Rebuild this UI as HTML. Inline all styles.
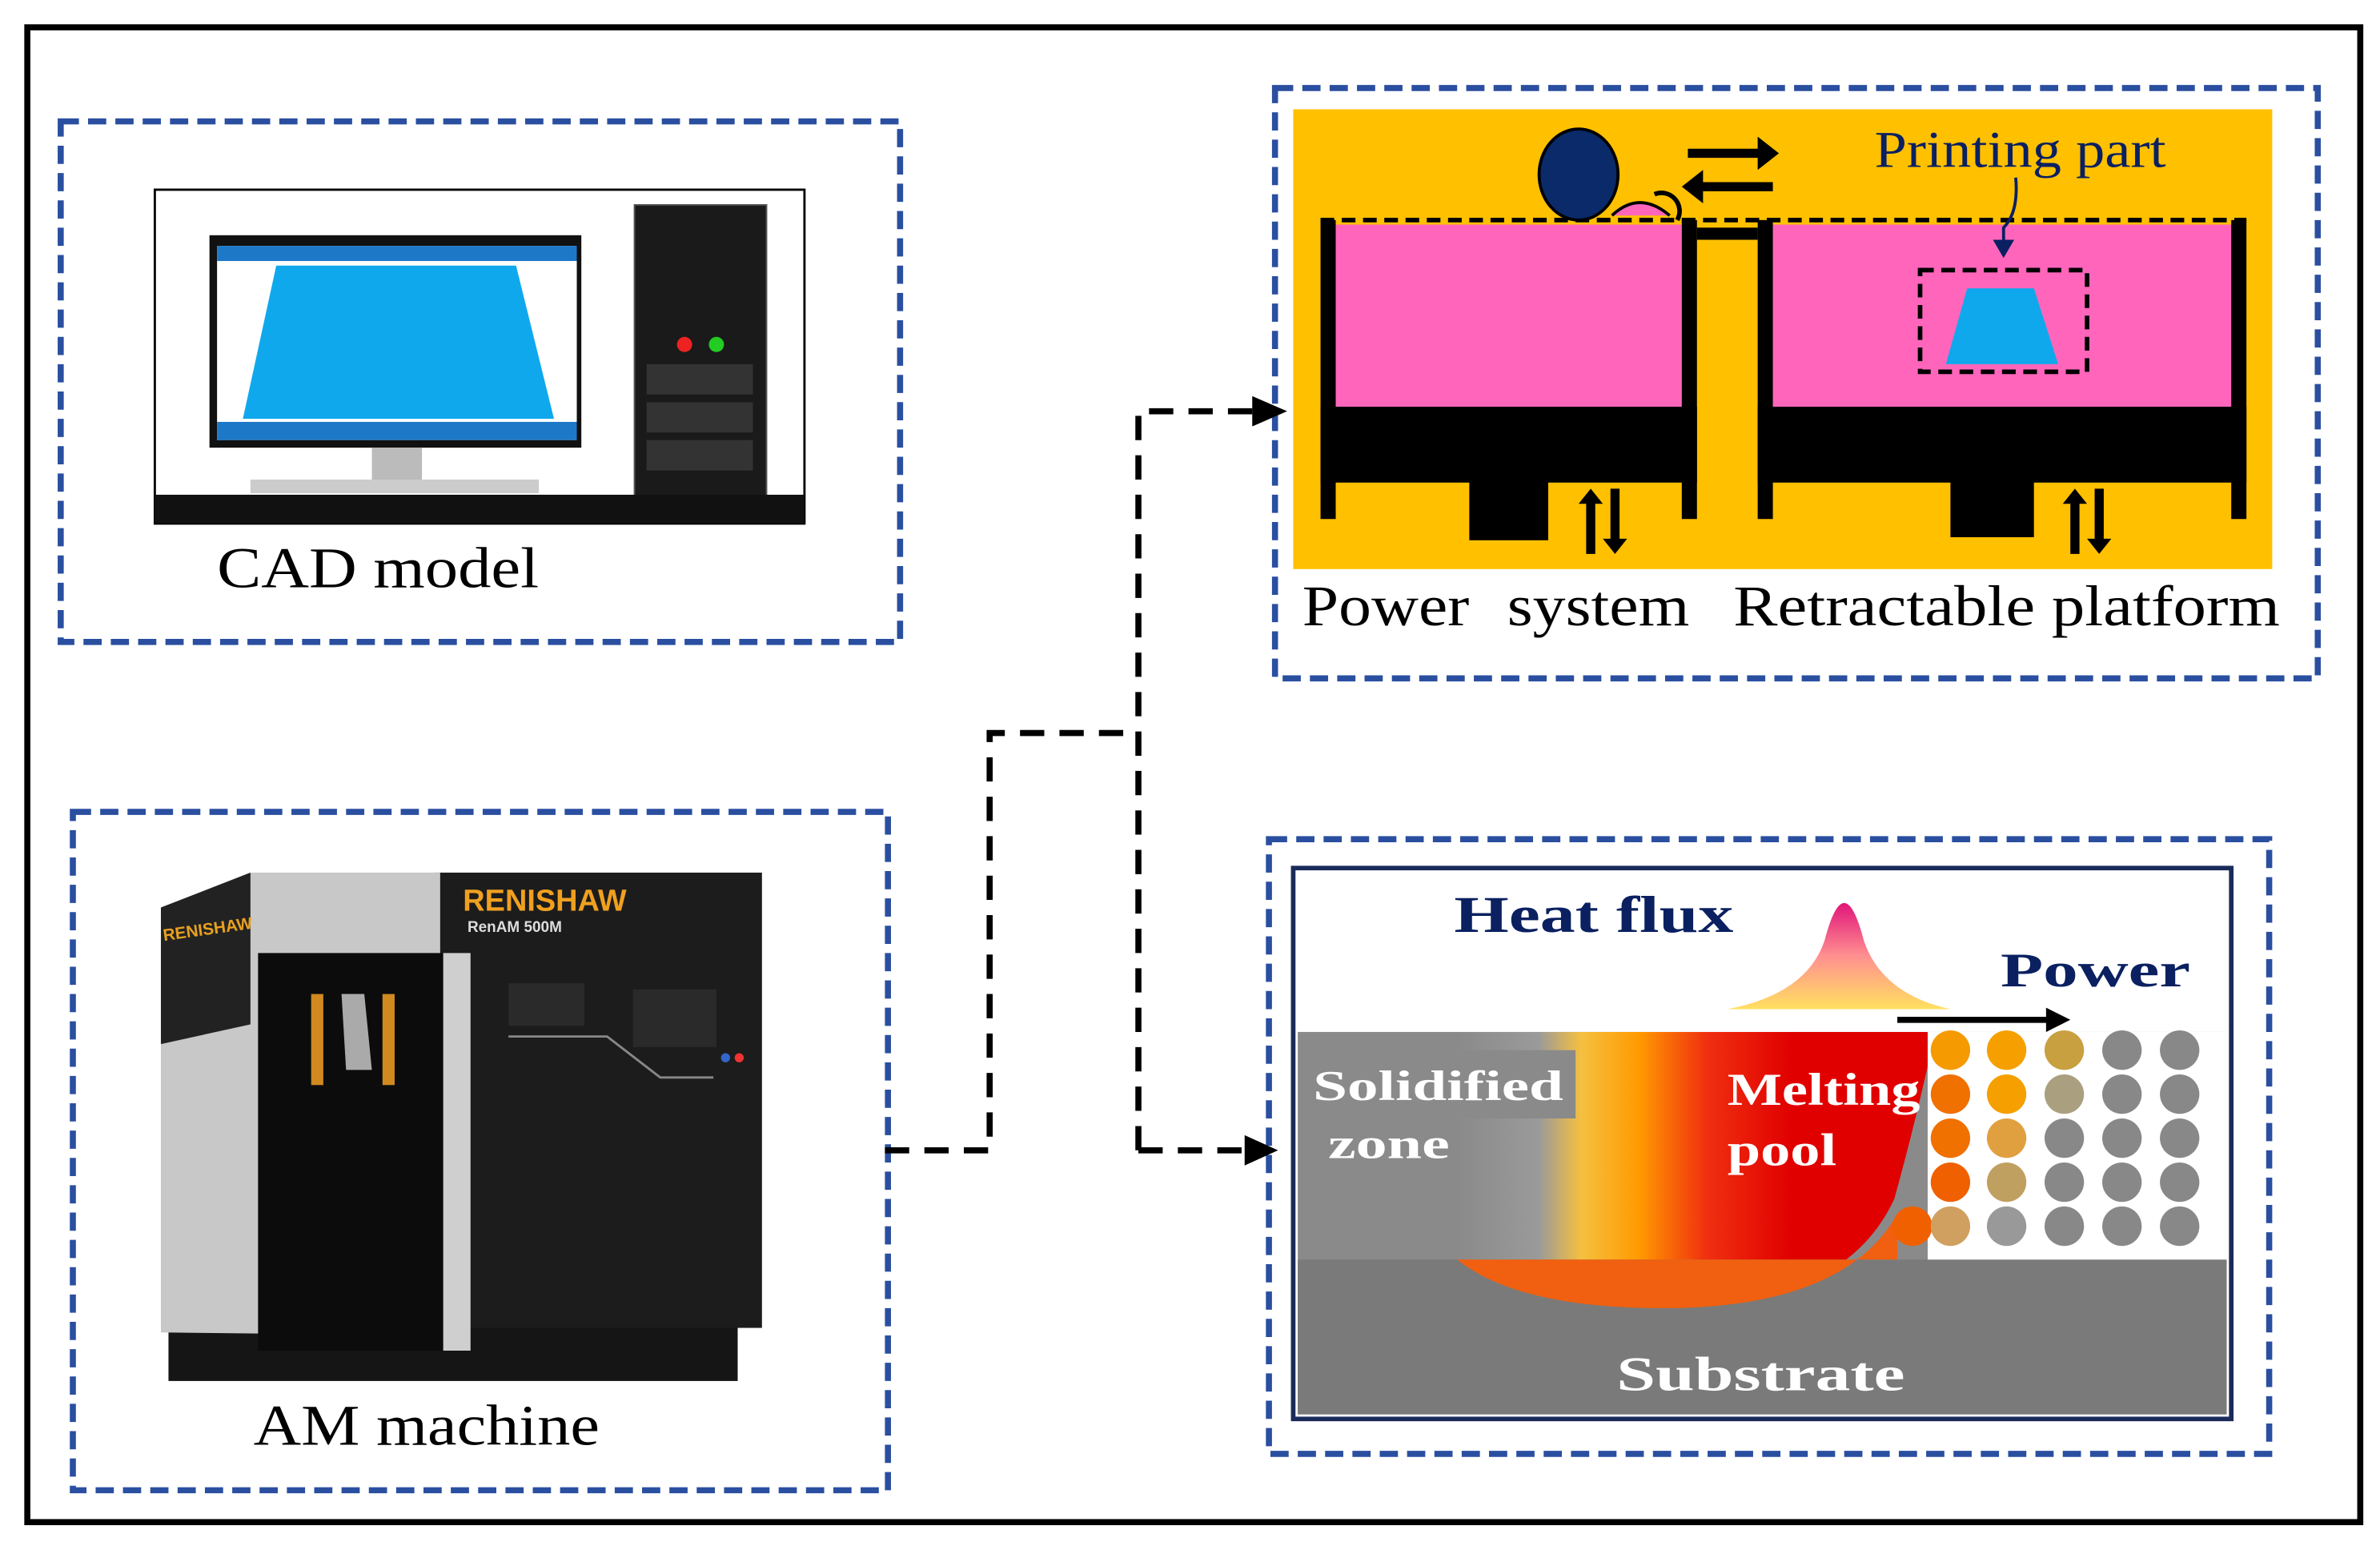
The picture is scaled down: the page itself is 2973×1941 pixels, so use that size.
<!DOCTYPE html>
<html><head><meta charset="utf-8"><style>html,body{margin:0;padding:0;background:#fff}svg{display:block}</style></head>
<body>
<svg width="2973" height="1941" viewBox="0 0 1568 1024" preserveAspectRatio="none" xmlns="http://www.w3.org/2000/svg" font-family="Liberation Serif, serif">
<defs>
<linearGradient id="mp" x1="0" x2="1" y1="0" y2="0">
<stop offset="0" stop-color="#8a8a8a"/><stop offset="0.17" stop-color="#9a9a9a"/><stop offset="0.26" stop-color="#f5c040"/><stop offset="0.38" stop-color="#ff9a00"/><stop offset="0.52" stop-color="#f03010"/><stop offset="0.7" stop-color="#e00000"/><stop offset="1" stop-color="#e00000"/></linearGradient>
<linearGradient id="hf" x1="0" x2="0" y1="0" y2="1"><stop offset="0" stop-color="#e0157a"/><stop offset="0.5" stop-color="#ff9090"/><stop offset="1" stop-color="#ffe060"/></linearGradient>
</defs>
<rect x="0" y="0" width="1568" height="1024" fill="#fff"/>
<rect x="18" y="18" width="1537" height="985" fill="none" stroke="#000" stroke-width="4"/>

<!-- CAD box -->
<rect x="40" y="80" width="553" height="343" fill="none" stroke="#2a4fa0" stroke-width="4" stroke-dasharray="12,6"/>
<rect x="102" y="125" width="428" height="220" fill="#fff" stroke="#000" stroke-width="1.5"/>
<rect x="138" y="155" width="245" height="140" fill="#111"/>
<rect x="143" y="162" width="237" height="128" fill="#fff"/>
<rect x="143" y="162" width="237" height="10" fill="#1e78c8"/>
<rect x="143" y="278" width="237" height="12" fill="#1e78c8"/>
<polygon points="182,175 340,175 365,276 160,276" fill="#10a8ec"/>
<rect x="245" y="295" width="33" height="23" fill="#bbb"/>
<rect x="165" y="316" width="190" height="9" fill="#ccc"/>
<rect x="418" y="135" width="87" height="195" fill="#1a1a1a" stroke="#555"/>
<rect x="426" y="240" width="70" height="20" fill="#333"/><rect x="426" y="265" width="70" height="20" fill="#333"/><rect x="426" y="290" width="70" height="20" fill="#333"/>
<circle cx="451" cy="227" r="5" fill="#e22"/><circle cx="472" cy="227" r="5" fill="#2c2"/>
<rect x="102" y="326" width="428" height="19" fill="#111"/>
<text x="143" y="387" font-size="38" textLength="212" lengthAdjust="spacingAndGlyphs">CAD model</text>

<!-- AM box -->
<rect x="48" y="535" width="537" height="447" fill="none" stroke="#2a4fa0" stroke-width="4" stroke-dasharray="12,6"/>
<rect x="111" y="868" width="375" height="42" fill="#151515"/>
<rect x="286" y="575" width="216" height="300" fill="#1c1c1c"/>
<polygon points="106,598 165,575 290,575 290,880 106,878" fill="#c8c8c8"/>
<polygon points="106,598 165,575 165,675 106,688" fill="#222"/>
<text x="108" y="620" font-size="11" font-weight="bold" fill="#e8a020" font-family="Liberation Sans, sans-serif" transform="rotate(-8 108 620)">RENISHAW</text>
<rect x="170" y="628" width="124" height="262" fill="#0c0c0c"/>
<rect x="205" y="655" width="8" height="60" fill="#d08a20"/><rect x="252" y="655" width="8" height="60" fill="#d08a20"/>
<polygon points="225,655 240,655 245,705 228,705" fill="#aaa"/>
<rect x="292" y="628" width="18" height="262" fill="#cfcfcf"/>
<text x="305" y="600" font-size="20" font-weight="bold" fill="#f0a020" font-family="Liberation Sans, sans-serif">RENISHAW</text>
<text x="308" y="614" font-size="10" font-weight="bold" fill="#ddd" font-family="Liberation Sans, sans-serif">RenAM 500M</text>
<rect x="335" y="648" width="50" height="28" fill="#2a2a2a"/><rect x="417" y="652" width="55" height="38" fill="#2a2a2a"/>
<polyline points="335,683 400,683 435,710 470,710" fill="none" stroke="#888" stroke-width="1.5"/>
<circle cx="478" cy="697" r="3" fill="#36c"/><circle cx="487" cy="697" r="3" fill="#e33"/>
<text x="167" y="952" font-size="38" textLength="228" lengthAdjust="spacingAndGlyphs">AM machine</text>

<!-- Powder system box -->
<rect x="840" y="58" width="687" height="389" fill="none" stroke="#2a4fa0" stroke-width="4" stroke-dasharray="12,6"/>
<rect x="852" y="72" width="645" height="303" fill="#ffc000"/>
<rect x="880" y="148" width="228" height="120" fill="#ff66bb"/>
<rect x="1168" y="148" width="302" height="120" fill="#ff66bb"/>
<rect x="870" y="145" width="10" height="197" fill="#000"/>
<rect x="1108" y="145" width="10" height="197" fill="#000"/>
<rect x="1158" y="145" width="10" height="197" fill="#000"/>
<rect x="1470" y="145" width="10" height="197" fill="#000"/>
<rect x="1118" y="150" width="40" height="8" fill="#000"/>
<rect x="870" y="268" width="248" height="50" fill="#000"/>
<rect x="1158" y="268" width="322" height="50" fill="#000"/>
<rect x="968" y="316" width="52" height="40" fill="#000"/>
<rect x="1285" y="316" width="55" height="38" fill="#000"/>
<line x1="870" y1="145" x2="1480" y2="145" stroke="#000" stroke-width="3" stroke-dasharray="9,5"/>
<ellipse cx="1040" cy="115" rx="26" ry="30" fill="#0a2a6a" stroke="#000" stroke-width="2"/>
<path d="M1062,142 Q1080,125 1100,142" fill="#ff66bb" stroke="#000" stroke-width="2"/>
<path d="M1090,128 A12,12 0 0 1 1105,145" fill="none" stroke="#000" stroke-width="3"/>
<path d="M1112,98 L1158,98 L1158,90 L1172,101 L1158,112 L1158,104 L1112,104 z" fill="#000"/>
<path d="M1168,120 L1122,120 L1122,112 L1108,123 L1122,134 L1122,126 L1168,126 z" fill="#000"/>
<rect x="1265" y="178" width="110" height="67" fill="none" stroke="#000" stroke-width="3" stroke-dasharray="9,5"/>
<polygon points="1296,190 1340,190 1356,240 1282,240" fill="#10a8ec"/>
<text x="1235" y="110" font-size="34" fill="#0a2060" textLength="192" lengthAdjust="spacingAndGlyphs">Printing part</text>
<path d="M1328,117 Q1330,140 1320,150 L1320,162" fill="none" stroke="#0a2060" stroke-width="2"/>
<polygon points="1313,158 1327,158 1320,170" fill="#0a2060"/>
<path d="M1045,365 L1045,332 L1040,332 L1048,322 L1056,332 L1051,332 L1051,365 z" fill="#000"/>
<path d="M1061,322 L1061,355 L1056,355 L1064,365 L1072,355 L1067,355 L1067,322 z" fill="#000"/>
<path d="M1364,365 L1364,332 L1359,332 L1367,322 L1375,332 L1370,332 L1370,365 z" fill="#000"/>
<path d="M1380,322 L1380,355 L1375,355 L1383,365 L1391,355 L1386,355 L1386,322 z" fill="#000"/>
<text x="858" y="412" font-size="38" textLength="110" lengthAdjust="spacingAndGlyphs">Power</text>
<text x="993" y="412" font-size="38" textLength="120" lengthAdjust="spacingAndGlyphs">system</text>
<text x="1142" y="412" font-size="38" textLength="360" lengthAdjust="spacingAndGlyphs">Retractable platform</text>

<!-- Melt pool box -->
<rect x="836" y="553" width="659" height="405" fill="none" stroke="#2a4fa0" stroke-width="4" stroke-dasharray="12,6"/>
<rect x="852" y="572" width="618" height="363" fill="#fff" stroke="#1a2a5a" stroke-width="3"/>
<rect x="855" y="680" width="612" height="252" fill="#8a8a8a"/>
<path d="M960,680 L1275,680 Q1262,740 1248,790 Q1215,862 1095,862 Q1000,862 960,830 z" fill="url(#mp)"/>
<rect x="855" y="830" width="612" height="102" fill="#7a7a7a"/>
<path d="M960,830 Q1000,862 1095,862 Q1215,862 1250,800 L1250,830 z" fill="#f06010"/>
<rect x="1270" y="680" width="197" height="150" fill="#fff"/>
<g>
<circle cx="1285" cy="692" r="13" fill="#f59a00"/><circle cx="1322" cy="692" r="13" fill="#f5a000"/><circle cx="1360" cy="692" r="13" fill="#c8a040"/><circle cx="1398" cy="692" r="13" fill="#888"/><circle cx="1436" cy="692" r="13" fill="#888"/>
<circle cx="1285" cy="721" r="13" fill="#f07000"/><circle cx="1322" cy="721" r="13" fill="#f5a000"/><circle cx="1360" cy="721" r="13" fill="#aaa080"/><circle cx="1398" cy="721" r="13" fill="#888"/><circle cx="1436" cy="721" r="13" fill="#888"/>
<circle cx="1285" cy="750" r="13" fill="#f07000"/><circle cx="1322" cy="750" r="13" fill="#e0a040"/><circle cx="1360" cy="750" r="13" fill="#888"/><circle cx="1398" cy="750" r="13" fill="#888"/><circle cx="1436" cy="750" r="13" fill="#888"/>
<circle cx="1285" cy="779" r="13" fill="#f06000"/><circle cx="1322" cy="779" r="13" fill="#c0a060"/><circle cx="1360" cy="779" r="13" fill="#888"/><circle cx="1398" cy="779" r="13" fill="#888"/><circle cx="1436" cy="779" r="13" fill="#888"/>
<circle cx="1260" cy="808" r="13" fill="#f06000"/><circle cx="1285" cy="808" r="13" fill="#d0a060"/><circle cx="1322" cy="808" r="13" fill="#999"/><circle cx="1360" cy="808" r="13" fill="#888"/><circle cx="1398" cy="808" r="13" fill="#888"/><circle cx="1436" cy="808" r="13" fill="#888"/>
</g>
<path d="M1138,665 Q1190,655 1202,620 Q1215,570 1228,620 Q1240,655 1285,665 z" fill="url(#hf)"/>
<line x1="1250" y1="672" x2="1350" y2="672" stroke="#000" stroke-width="4"/>
<polygon points="1348,664 1364,672 1348,680" fill="#000"/>
<rect x="858" y="692" width="180" height="45" fill="#8a8a8a"/>
<text x="958" y="614" font-size="34" font-weight="bold" fill="#0a2060" textLength="184" lengthAdjust="spacingAndGlyphs">Heat flux</text>
<text x="1318" y="650" font-size="32" font-weight="bold" fill="#0a2060" textLength="125" lengthAdjust="spacingAndGlyphs">Power</text>
<text x="865" y="725" font-size="28" font-weight="bold" fill="#fff" textLength="165" lengthAdjust="spacingAndGlyphs">Solidified</text>
<text x="875" y="763" font-size="28" font-weight="bold" fill="#fff" textLength="80" lengthAdjust="spacingAndGlyphs">zone</text>
<text x="1138" y="728" font-size="30" font-weight="bold" fill="#fff" textLength="127" lengthAdjust="spacingAndGlyphs">Melting</text>
<text x="1138" y="768" font-size="30" font-weight="bold" fill="#fff" textLength="72" lengthAdjust="spacingAndGlyphs">pool</text>
<text x="1065" y="916" font-size="32" font-weight="bold" fill="#fff" textLength="190" lengthAdjust="spacingAndGlyphs">Substrate</text>

<!-- connectors -->
<g fill="none" stroke="#000" stroke-width="4" stroke-dasharray="16,10">
<polyline points="583,758 652,758 652,483 750,483"/>
<polyline points="750,758 750,271 830,271"/>
<line x1="750" y1="758" x2="825" y2="758"/>
</g>
<polygon points="825,261 848,271 825,281" fill="#000"/>
<polygon points="820,748 842,758 820,768" fill="#000"/>
</svg>
</body></html>
